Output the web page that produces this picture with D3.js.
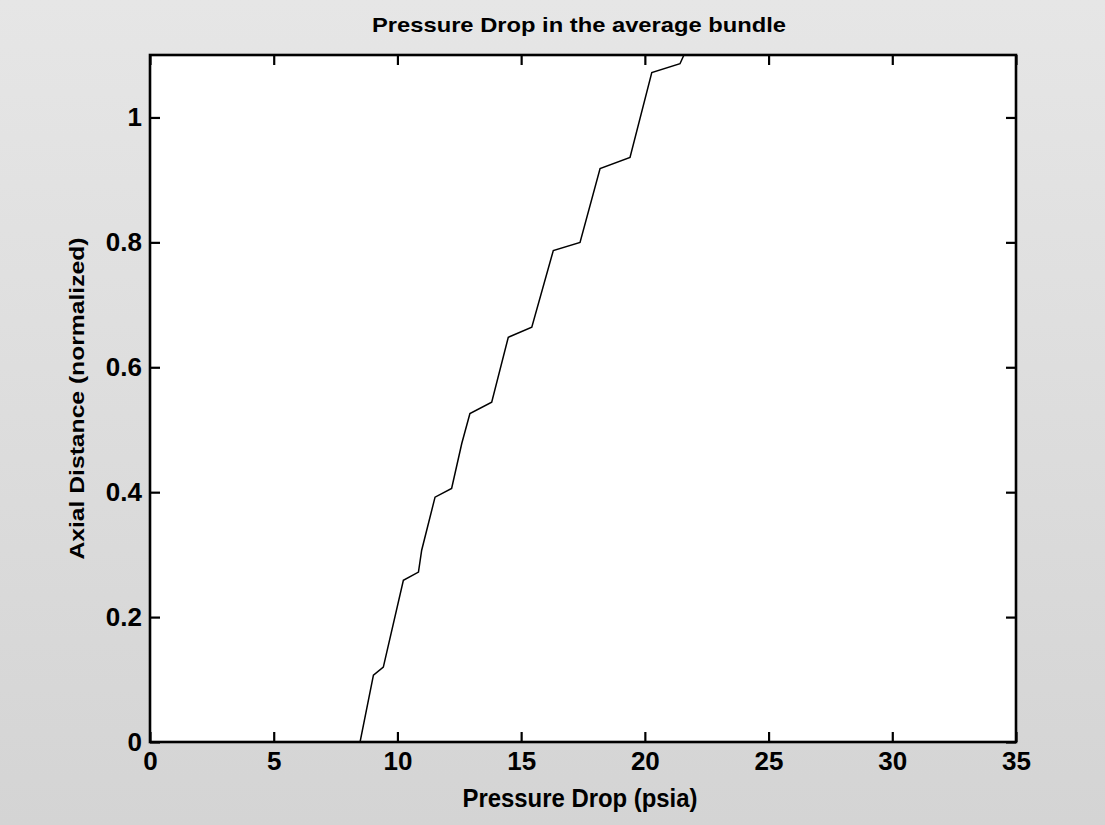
<!DOCTYPE html>
<html>
<head>
<meta charset="utf-8">
<script src="https://cdn.jsdelivr.net/npm/d3@7"></script>
<style>
  html, body { margin: 0; padding: 0; background: #dcdcdc; }
  svg { display: block; }
  text { font-family: "Liberation Sans", Arial, Helvetica, sans-serif; font-weight: bold; fill: #000; }
</style>
</head>
<body>
<script>
// ---- data ----
const pressure = [8.49, 9.03, 9.43, 10.24, 10.85, 10.98, 11.52, 12.19, 12.6, 12.93, 13.81, 14.48, 15.43, 16.30, 17.38, 18.19, 19.40, 20.28, 21.42, 21.58];
const axial    = [0.0, 0.107, 0.12, 0.259, 0.272, 0.307, 0.392, 0.406, 0.478, 0.526, 0.544, 0.648, 0.664, 0.787, 0.80, 0.918, 0.936, 1.072, 1.086, 1.1];
const xTicks = [0, 5, 10, 15, 20, 25, 30, 35];
const yTicks = [0, 0.2, 0.4, 0.6, 0.8, 1];
const titleText = "Pressure Drop in the average bundle";
const xLabel = "Pressure Drop (psia)";
const yLabel = "Axial Distance (normalized)";

const W = 1105, H = 825;
const pLeft = 150, pRight = 1016, pTop = 55, pBottom = 742;

const svg = d3.select("body").append("svg").attr("width", W).attr("height", H);

const defs = svg.append("defs");
const grad = defs.append("linearGradient")
  .attr("id", "bg").attr("x1", 0).attr("y1", 0).attr("x2", 0).attr("y2", 1);
grad.append("stop").attr("offset", "0%").attr("stop-color", "#e6e6e6");
grad.append("stop").attr("offset", "100%").attr("stop-color", "#d4d4d4");
defs.append("clipPath").attr("id", "clip")
  .append("rect").attr("x", pLeft).attr("y", pTop).attr("width", pRight - pLeft).attr("height", pBottom - pTop);

svg.append("rect").attr("width", W).attr("height", H).attr("fill", "url(#bg)");
svg.append("rect").attr("x", pLeft).attr("y", pTop).attr("width", pRight - pLeft).attr("height", pBottom - pTop).attr("fill", "#fff");

const x = d3.scaleLinear().domain([0, 35]).range([pLeft, pRight]);
const y = d3.scaleLinear().domain([0, 1.1]).range([pBottom, pTop]);

// data line
const pts = pressure.map((p, i) => [p, axial[i]]);
svg.append("path")
  .datum(pts)
  .attr("clip-path", "url(#clip)")
  .attr("fill", "none")
  .attr("stroke", "#000")
  .attr("stroke-width", 1.5)
  .attr("d", d3.line().x(d => x(d[0])).y(d => y(d[1])));

// axes (MATLAB style: ticks inward on all four sides)
function styleAxis(g) {
  g.select(".domain").remove();
  g.selectAll(".tick line").attr("stroke", "#000").attr("stroke-width", 2.2);
  g.selectAll(".tick text").attr("font-size", 26).attr("font-weight", "bold")
    .attr("font-family", "'Liberation Sans', Arial, sans-serif");
}
const fmt = d => d3.format("~g")(d);

svg.append("g").attr("transform", `translate(0,${pBottom})`)
  .call(d3.axisBottom(x).tickValues(xTicks).tickFormat(fmt).tickSizeInner(-10).tickSizeOuter(0).tickPadding(10))
  .call(styleAxis);
svg.append("g").attr("transform", `translate(0,${pTop})`)
  .call(d3.axisTop(x).tickValues(xTicks).tickFormat("").tickSizeInner(-10).tickSizeOuter(0))
  .call(styleAxis);
svg.append("g").attr("transform", `translate(${pLeft},0)`)
  .call(d3.axisLeft(y).tickValues(yTicks).tickFormat(fmt).tickSizeInner(-10).tickSizeOuter(0).tickPadding(8))
  .call(styleAxis);
svg.append("g").attr("transform", `translate(${pRight},0)`)
  .call(d3.axisRight(y).tickValues(yTicks).tickFormat("").tickSizeInner(-10).tickSizeOuter(0))
  .call(styleAxis);

// frame
svg.append("rect").attr("x", pLeft).attr("y", pTop).attr("width", pRight - pLeft).attr("height", pBottom - pTop)
  .attr("fill", "none").attr("stroke", "#000").attr("stroke-width", 2.6);

// title & labels
svg.append("text").attr("x", 579).attr("y", 32)
  .attr("text-anchor", "middle").attr("font-size", 21)
  .attr("textLength", 414).attr("lengthAdjust", "spacingAndGlyphs")
  .text(titleText);

svg.append("text").attr("x", 580).attr("y", 807)
  .attr("text-anchor", "middle").attr("font-size", 25)
  .attr("textLength", 235).attr("lengthAdjust", "spacingAndGlyphs")
  .text(xLabel);

svg.append("text")
  .attr("transform", `translate(84,${(pTop + pBottom) / 2}) rotate(-90)`)
  .attr("text-anchor", "middle").attr("font-size", 21)
  .attr("textLength", 322).attr("lengthAdjust", "spacingAndGlyphs")
  .text(yLabel);
</script>
</body>
</html>
